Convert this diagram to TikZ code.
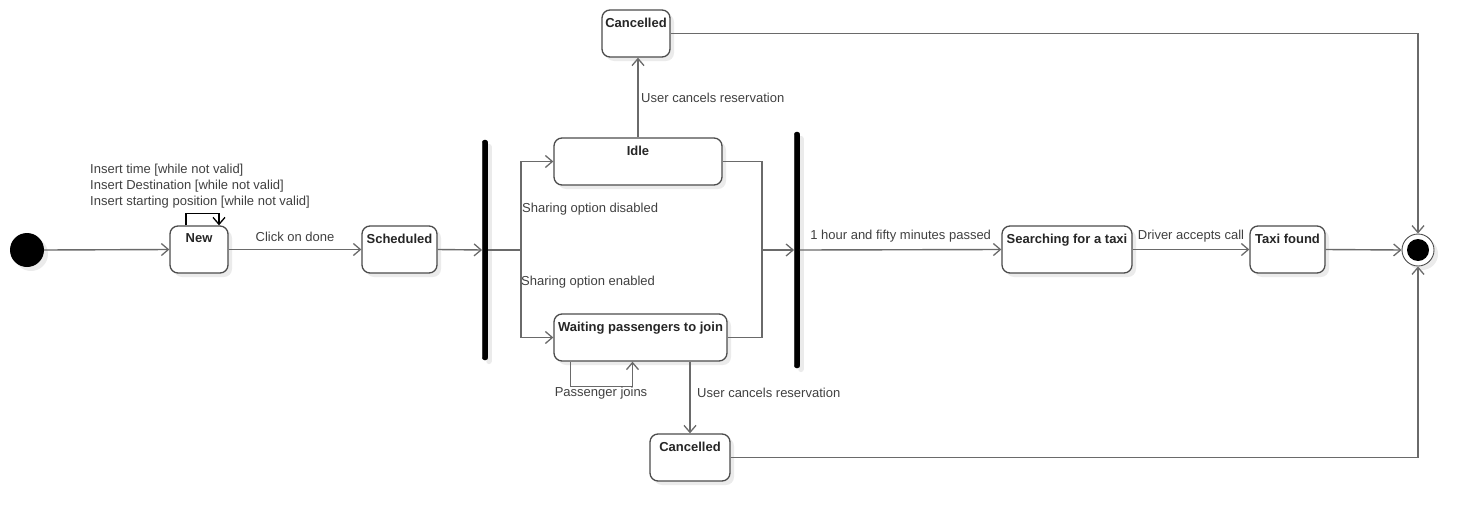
\documentclass[tikz,border=0pt]{standalone}
\usepackage{fontspec}
\setmainfont{Liberation Sans}
\usetikzlibrary{arrows.meta,shadows,calc}
\definecolor{edgegray}{HTML}{6A6A6A}
\definecolor{boxgray}{HTML}{4C4C4C}
\definecolor{txtgray}{HTML}{404040}
\begin{document}
\begin{tikzpicture}[x=1pt,y=-1pt,
  state/.style={draw=boxgray, line width=1.3pt, rounded corners=8pt, fill=white,
    minimum width=#1, minimum height=47pt, inner sep=0pt,
    drop shadow={shadow xshift=4pt, shadow yshift=-4pt, fill=black!8, opacity=1}},
  stitle/.style={font=\fontsize{13}{15}\selectfont\bfseries, text=black!85, anchor=north, inner sep=0pt},
  bar/.style={fill=black, draw=black, rounded corners=2.5pt, minimum width=5.5pt, inner sep=0pt,
    drop shadow={shadow xshift=4pt, shadow yshift=-4pt, fill=black!8, opacity=1}},
  edge/.style={draw=edgegray, line width=1.4pt, -{Straight Barb[length=7pt,width=12pt,line width=1.3pt]}},
  plain/.style={draw=edgegray, line width=1.4pt},
  lbl/.style={font=\fontsize{13}{15}\selectfont, text=txtgray, inner sep=0pt}
]
\useasboundingbox (0,0) rectangle (1474,522);

% initial and final
\node[circle, fill=black, minimum size=34pt, inner sep=0pt,
  drop shadow={shadow xshift=4pt, shadow yshift=-4pt, fill=black!8, opacity=1}] (init) at (27,250) {};
\node[circle, draw=boxgray, line width=0.9pt, fill=white, minimum size=32pt, inner sep=0pt,
  drop shadow={shadow xshift=4pt, shadow yshift=-4pt, fill=black!8, opacity=1}] (final) at (1418,250) {};
\node[circle, fill=black, minimum size=22pt, inner sep=0pt] (finalin) at (final.center) {};

% states
\node[state=58pt] (new) at (199,249.5) {};
\node[stitle] (newt) at ([yshift=-8.5pt]new.north) {New};
\node[state=75pt] (sched) at (399.5,249.5) {};
\node[stitle] (schedt) at ([yshift=-8.5pt]sched.north) {Scheduled};
\node[state=168pt] (idle) at (638,161.5) {};
\node[stitle] (idlet) at ([yshift=-8.5pt]idle.north) {Idle};
\node[state=173pt] (wait) at (640.5,337.5) {};
\node[stitle] (waitt) at ([yshift=-8.5pt]wait.north) {Waiting passengers to join};
\node[state=68pt] (ctop) at (636,33.5) {};
\node[stitle] (ctopt) at ([yshift=-8.5pt]ctop.north) {Cancelled};
\node[state=80pt] (cbot) at (690,457.5) {};
\node[stitle] (cbott) at ([yshift=-8.5pt]cbot.north) {Cancelled};
\node[state=130pt] (search) at (1067,249.5) {};
\node[stitle] (searcht) at ([yshift=-8.5pt]search.north) {Searching for a taxi};
\node[state=75pt] (taxi) at (1287.5,249.5) {};
\node[stitle] (taxit) at ([yshift=-8.5pt]taxi.north) {Taxi found};

% bars
\node[bar, minimum height=220pt] (bar1) at (485,250) {};
\node[bar, minimum height=236pt] (bar2) at (797,250) {};

\coordinate (j1) at (521,250);
\coordinate (j2) at (762,250);

% connectors
\draw[edge] (init.east) -- (new.west);
\draw[edge] (new.east) -- node[lbl, above=7pt] (l1) {Click on done} (sched.west);
\draw[edge] (sched.east) -- (bar1.west);
\draw[plain] (bar1.east) -- (j1);
\draw[edge] (j1) |- (idle.west);
\draw[edge] (j1) |- (wait.west);
\draw[plain] (idle.east) -| (j2);
\draw[plain] (wait.east) -| (j2);
\draw[edge] (j2) -- (bar2.west);
\draw[edge] (bar2.east) -- node[lbl, above=7pt] (l2) {1 hour and fifty minutes passed} (search.west);
\draw[edge] (search.east) -- node[lbl, above=7pt] (l3) {Driver accepts call} (taxi.west);
\draw[edge] (taxi.east) -- (final.west);
\draw[edge] (idle.north) -- (idle.north |- ctop.south);
\draw[edge] (cbot.north |- wait.south) -- (cbot.north);
\draw[edge] (ctop.east) -| (final.north);
\draw[edge] (cbot.east) -| (final.south);

% self loops
\draw[edge, draw=black] ([xshift=-13pt]new.north) -- ++(0,-12) -| ([xshift=20pt]new.north);
\draw[edge] ([xshift=-70pt]wait.south) -- ++(0,25) -| ([xshift=-8pt]wait.south);

% labels
\node[lbl, anchor=west, align=left] (l0) at (90,186) {Insert time [while not valid]\\[1pt]Insert Destination [while not valid]\\[1pt]Insert starting position [while not valid]};
\node[lbl, anchor=west] (l4) at (641,98) {User cancels reservation};
\node[lbl, anchor=west] (l5) at (697,393) {User cancels reservation};
\node[lbl] (l6) at (601,393) {Passenger joins};
\node[lbl, anchor=west] (l7) at (522,209) {Sharing option disabled};
\node[lbl, anchor=west] (l8) at (521,282) {Sharing option enabled};
\end{tikzpicture}
\end{document}
